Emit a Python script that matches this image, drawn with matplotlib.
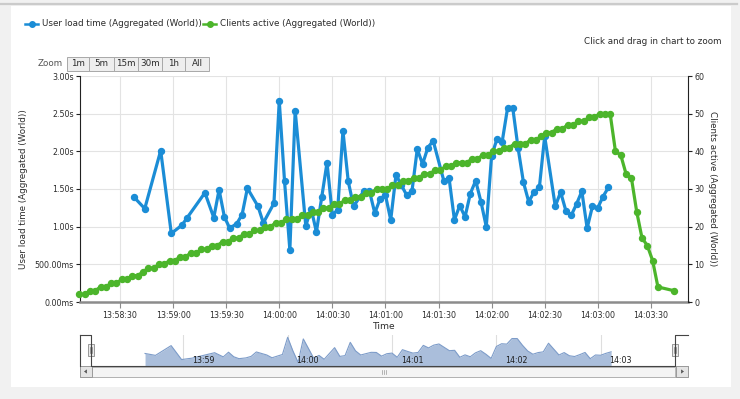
import pandas as pd
import matplotlib
matplotlib.use('Agg')
import matplotlib.pyplot as plt
import matplotlib.dates as mdates
import matplotlib.transforms as mtransforms
from matplotlib.patches import Rectangle
from matplotlib.lines import Line2D

W, H = 740, 399
base = pd.Timestamp('2013-01-01 13:58:00')

# seconds after 13:58:00 and user load time in seconds
load_t = [38, 44, 53, 59, 65, 68, 78, 83, 86, 89,
          92, 96, 99, 102, 108, 111, 117, 120, 123, 126,
          129, 135, 138, 141, 144, 147, 150, 153, 156, 159,
          162, 168, 171, 174, 177, 180, 183, 186, 189, 192,
          195, 198, 201, 204, 207, 213, 216, 219, 222, 225,
          228, 231, 234, 237, 240, 243, 246, 249, 252, 255,
          258, 261, 264, 267, 270, 276, 279, 282, 285, 288,
          291, 294, 297, 300, 303, 306]
load_s = [1.39, 1.24, 2.01, 0.91, 1.02, 1.12, 1.45, 1.12, 1.49, 1.13,
          0.98, 1.04, 1.16, 1.51, 1.27, 1.05, 1.31, 2.67, 1.60, 0.69,
          2.54, 1.01, 1.24, 0.93, 1.39, 1.85, 1.16, 1.22, 2.27, 1.60,
          1.27, 1.48, 1.47, 1.18, 1.37, 1.42, 1.09, 1.69, 1.55, 1.42,
          1.47, 2.03, 1.83, 2.05, 2.14, 1.61, 1.64, 1.09, 1.28, 1.13,
          1.44, 1.61, 1.33, 1.00, 1.94, 2.16, 2.13, 2.57, 2.57, 2.04,
          1.59, 1.33, 1.46, 1.52, 2.20, 1.27, 1.46, 1.21, 1.15, 1.30,
          1.47, 0.98, 1.27, 1.25, 1.40, 1.52]

# seconds after 13:58:00 and active clients
clients_t = [7, 10, 13, 16, 19, 22, 25, 28, 31, 34,
             37, 40, 43, 46, 49, 52, 55, 58, 61, 64,
             67, 70, 73, 76, 79, 82, 85, 88, 91, 94,
             97, 100, 103, 106, 109, 112, 115, 118, 121, 124,
             127, 130, 133, 136, 139, 142, 145, 148, 151, 154,
             157, 160, 163, 166, 169, 172, 175, 178, 181, 184,
             187, 190, 193, 196, 199, 202, 205, 208, 211, 214,
             217, 220, 223, 226, 229, 232, 235, 238, 241, 244,
             247, 250, 253, 256, 259, 262, 265, 268, 271, 274,
             277, 280, 283, 286, 289, 292, 295, 298, 301, 304,
             307, 310, 313, 316, 319, 322, 325, 328, 331, 334, 343]
clients_n = [2, 2, 3, 3, 4, 4, 5, 5, 6, 6,
             7, 7, 8, 9, 9, 10, 10, 11, 11, 12,
             12, 13, 13, 14, 14, 15, 15, 16, 16, 17,
             17, 18, 18, 19, 19, 20, 20, 21, 21, 22,
             22, 22, 23, 23, 24, 24, 25, 25, 26, 26,
             27, 27, 28, 28, 29, 29, 30, 30, 30, 31,
             31, 32, 32, 33, 33, 34, 34, 35, 35, 36,
             36, 37, 37, 37, 38, 38, 39, 39, 40, 40,
             41, 41, 42, 42, 42, 43, 43, 44, 45, 45,
             46, 46, 47, 47, 48, 48, 49, 49, 50, 50,
             50, 40, 39, 34, 33, 24, 17, 15, 11, 4, 3]

load_ticks = [0, 0.5, 1.0, 1.5, 2.0, 2.5, 3.0]
load_tick_labels = ['0.00ms', '500.00ms', '1.00s', '1.50s', '2.00s', '2.50s', '3.00s']
clients_ticks = [0, 10, 20, 30, 40, 50, 60]
zoom_buttons = ['1m', '5m', '15m', '30m', '1h', 'All']
nav_labels = ['13:59', '14:00', '14:01', '14:02', '14:03']

BLUE = '#1b8dd6'
GREEN = '#4cb52b'
TXT = '#2b2b2b'


def ts(secs):
    return base + pd.to_timedelta(secs, unit='s')


def box(x0, y0, x1, y1):
    return [x0 / W, 1 - y1 / H, (x1 - x0) / W, (y1 - y0) / H]


plt.rcParams['font.family'] = 'DejaVu Sans'
fig = plt.figure(figsize=(W / 100, H / 100), dpi=100, facecolor='#f1f1f1')


def rect(x0, y0, x1, y1, **kw):
    fig.add_artist(Rectangle((x0 / W, 1 - y1 / H), (x1 - x0) / W, (y1 - y0) / H,
                             transform=fig.transFigure, **kw))


def pline(xs, ys, **kw):
    fig.add_artist(Line2D([x / W for x in xs], [1 - y / H for y in ys],
                          transform=fig.transFigure, **kw))


def ptext(x, y, s, **kw):
    fig.text(x / W, 1 - y / H, s, **kw)


# page frame
rect(11, 6, 731, 387, facecolor='white', edgecolor='none', zorder=-5)
pline([0, 737], [4, 4], color='#cbcbcb', lw=1.6, zorder=-4)

# main chart
ax = fig.add_axes(box(80, 76, 688, 302))
ax.set_xlim(ts(7.4), ts(351))
ax.set_ylim(0, 3)
ax.plot(ts(load_t), load_s, color=BLUE, lw=2.3, marker='o', ms=4.3,
        clip_on=False, zorder=3)
ax.set_yticks(load_ticks)
ax.set_yticklabels(load_tick_labels)
ax.xaxis.set_major_locator(mdates.SecondLocator(bysecond=[0, 30]))
ax.xaxis.set_major_formatter(mdates.DateFormatter('%H:%M:%S'))
ax.grid(color='#e3e3e3', lw=0.8)
ax.set_axisbelow(True)
for s in ['top', 'right']:
    ax.spines[s].set_visible(False)
ax.spines['left'].set_color('#222222')
ax.spines['left'].set_linewidth(0.8)
ax.spines['bottom'].set_color('#8c8c8c')
ax.spines['bottom'].set_linewidth(1.8)
ax.tick_params(axis='y', length=3, width=0.8, color='#222222',
               labelsize=5.7, labelcolor=TXT, pad=1.5)
ax.tick_params(axis='x', length=4, width=0.8, color='#8c8c8c',
               labelsize=5.7, labelcolor=TXT, pad=2.5)
ax.set_xlabel('Time', fontsize=6.6, color=TXT, labelpad=1.5)
ax.set_ylabel('User load time (Aggregated (World))', fontsize=6.3, color=TXT)
ax.yaxis.set_label_coords((28 - 80) / 608, 0.5)

ax2 = ax.twinx()
ax2.set_ylim(0, 60)
ax2.set_yticks(clients_ticks)
ax2.plot(ts(clients_t), clients_n, color=GREEN, lw=2.3, marker='o', ms=4.3,
         clip_on=False, zorder=3)
for s in ['top', 'left', 'bottom']:
    ax2.spines[s].set_visible(False)
ax2.spines['right'].set_color('#222222')
ax2.spines['right'].set_linewidth(0.8)
ax2.tick_params(axis='y', length=3, width=0.8, color='#222222',
                labelsize=5.7, labelcolor=TXT, pad=1.5)
ax2.set_ylabel('Clients active (Aggregated (World))', fontsize=6.3, color=TXT,
               rotation=270, va='center')
ax2.yaxis.set_label_coords((712 - 80) / 608, 0.5)

# legend
legend_items = [('User load time (Aggregated (World))', BLUE, 25),
                ('Clients active (Aggregated (World))', GREEN, 203)]
for label, col, x0 in legend_items:
    pline([x0, x0 + 13], [24, 24], color=col, lw=1.8)
    pline([x0 + 6.5], [24], color=col, marker='o', ms=4, lw=0)
    ptext(x0 + 17, 24, label, fontsize=6.3, color=TXT, va='center')

ptext(722, 41, 'Click and drag in chart to zoom', fontsize=6.3, color=TXT,
      ha='right', va='center')

# range selector
ptext(38, 63.5, 'Zoom', fontsize=6.3, color='#555555', va='center')
edges = [67, 89, 114, 138, 162, 185, 209]
for i, lbl in enumerate(zoom_buttons):
    rect(edges[i], 56.5, edges[i + 1], 70.5, facecolor='#eeeeee',
         edgecolor='#a8a8a8', lw=0.7)
    ptext((edges[i] + edges[i + 1]) / 2, 63.5, lbl, fontsize=6.3, color=TXT,
          ha='center', va='center')

# navigator
nav = fig.add_axes(box(80, 335, 688, 366))
nav.set_xlim(ts(0.6), ts(350.2))
nav.set_ylim(0.4, 2.85)
nav.patch.set_alpha(0)
nav.fill_between(ts(load_t), load_s, 0.4, color='#aabedb', lw=0)
nav.plot(ts(load_t), load_s, color='#7d9cc9', lw=0.8)
nav.xaxis.set_major_locator(mdates.MinuteLocator())
nav.grid(axis='x', color='#dedede', lw=0.8)
nav.set_axisbelow(True)
nav.tick_params(length=0, labelbottom=False, labelleft=False)
for s in nav.spines.values():
    s.set_visible(False)
blend = mtransforms.blended_transform_factory(nav.transData, nav.transAxes)
for lbl in nav_labels:
    nav.text(mdates.date2num(pd.Timestamp('2013-01-01 ' + lbl)) + 3 / 86400 * 1.7,
             0.04, lbl, transform=blend, fontsize=5.7, color='#1e1e1e', ha='left',
             va='bottom')

# handles sit at the data extremes
xl = nav.transData.transform((mdates.date2num(ts(clients_t[0])), 0))[0]
xr = nav.transData.transform((mdates.date2num(ts(clients_t[-1])), 0))[0]
pline([80, xl, xl, xr, xr, 688], [335, 335, 366, 366, 335, 335],
      color='#444444', lw=0.8)
pline([80, 80], [335, 366], color='#444444', lw=0.8)

# scrollbar
rect(80, 366, 688, 377, facecolor='#ececec', edgecolor='#9a9a9a', lw=0.7)
rect(xl, 366.5, xr, 376.5, facecolor='#f4f4f4', edgecolor='#b0b0b0', lw=0.6)
rect(80, 366, 92, 377, facecolor='#e4e4e4', edgecolor='#9a9a9a', lw=0.7)
rect(676, 366, 688, 377, facecolor='#e4e4e4', edgecolor='#9a9a9a', lw=0.7)
pline([85, 86.5, 86.5, 85], [371.5, 370, 373, 371.5], color='#555555', lw=0.6)
pline([683, 681.5, 681.5, 683], [371.5, 370, 373, 371.5], color='#555555', lw=0.6)
for dx in (-2, 0, 2):
    pline([384 + dx, 384 + dx], [369.5, 373.5], color='#999999', lw=0.5)

for xh in (xl, xr):
    rect(xh - 3, 344, xh + 3, 356, facecolor='#ebebeb', edgecolor='#8a8a8a', lw=0.6)
    for dx in (-1, 1):
        pline([xh + dx, xh + dx], [347, 353], color='#777777', lw=0.5)

fig.savefig('out.png', dpi=100, facecolor=fig.get_facecolor())
